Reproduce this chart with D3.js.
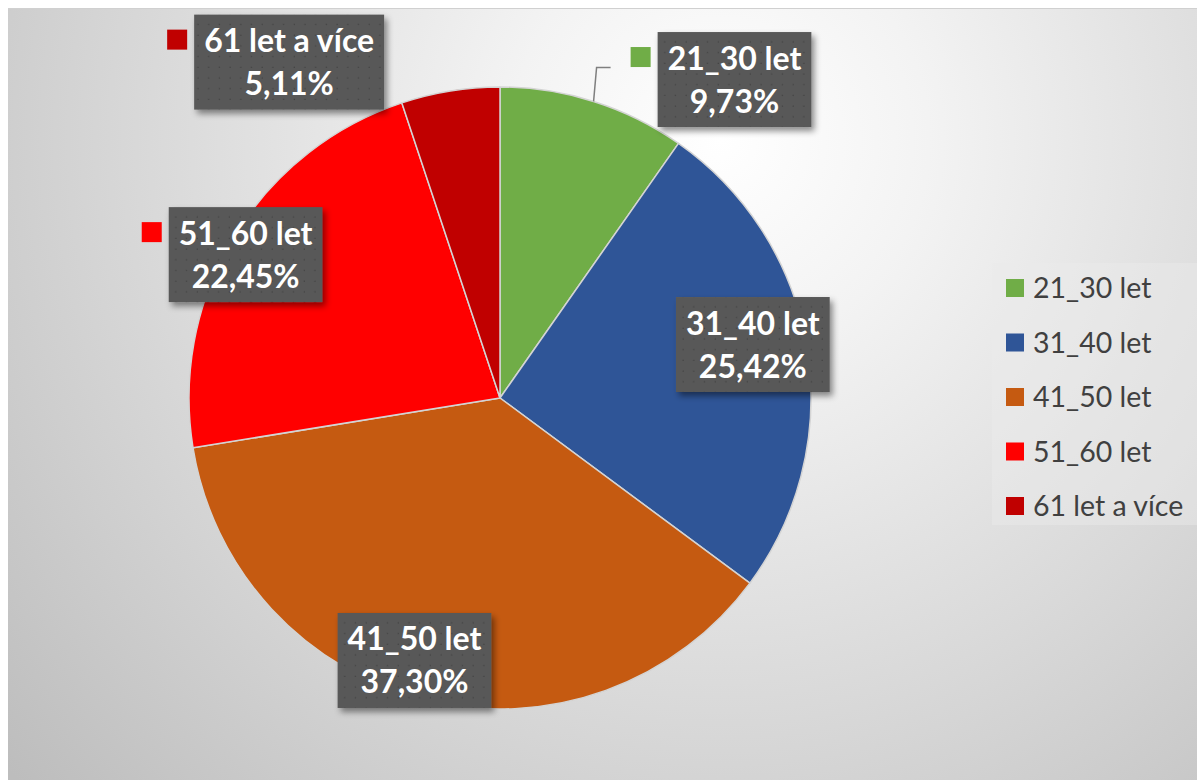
<!DOCTYPE html>
<html>
<head>
<meta charset="utf-8">
<script src="https://cdn.jsdelivr.net/npm/d3@7"></script>
<style>
  body { margin: 0; background: #fff; }
  svg { display: block; }
</style>
</head>
<body>
<svg width="1197" height="780"></svg>
<script>
var categories = ["21_30 let", "31_40 let", "41_50 let", "51_60 let", "61 let a více"];
var values = [9.73, 25.42, 37.30, 22.45, 5.11];
var labels = ["9,73%", "25,42%", "37,30%", "22,45%", "5,11%"];
var colors = ["#70AD47", "#2F5597", "#C55A11", "#FF0000", "#C00000"];

// label box centres, relative to pie centre (fraction of radius) - like excel "best fit"
var labelOffset = [[0.754, -1.024], [0.813, -0.172], [-0.275, 0.844], [-0.818, -0.461], [-0.678, -1.080]];
var showKey = [true, false, false, true, true];

var svg = d3.select("svg"),
  width = +svg.attr("width"),
  height = +svg.attr("height"),
  cx = 500,
  cy = 398,
  radius = 311;

var defs = svg.append("defs");

var bg = defs.append("radialGradient")
  .attr("id", "bg")
  .attr("gradientUnits", "userSpaceOnUse")
  .attr("cx", 720).attr("cy", 140).attr("r", 950);
bg.append("stop").attr("offset", "0").attr("stop-color", "#ffffff");
bg.append("stop").attr("offset", "0.22").attr("stop-color", "#f3f3f3");
bg.append("stop").attr("offset", "0.6").attr("stop-color", "#d9d9d9");
bg.append("stop").attr("offset", "1").attr("stop-color", "#bdbdbd");

var pat = defs.append("pattern")
  .attr("id", "dots")
  .attr("patternUnits", "userSpaceOnUse")
  .attr("width", 10.7).attr("height", 10.7);
pat.append("rect").attr("width", 10.7).attr("height", 10.7).attr("fill", "#595959");
pat.append("rect").attr("x", 4.5).attr("y", 4.5).attr("width", 1.4).attr("height", 1.4).attr("fill", "#444");

var shadow = defs.append("filter").attr("id", "shadow")
  .attr("x", "-20%").attr("y", "-20%").attr("width", "140%").attr("height", "150%");
shadow.append("feDropShadow")
  .attr("dx", 3).attr("dy", 4).attr("stdDeviation", 3)
  .attr("flood-color", "#000").attr("flood-opacity", 0.45);

// background of the chart area
svg.append("rect")
  .attr("x", 8).attr("y", 8)
  .attr("width", width - 8).attr("height", height - 8)
  .attr("fill", "url(#bg)");
svg.append("line")
  .attr("x1", 8).attr("x2", width).attr("y1", 8.5).attr("y2", 8.5)
  .attr("stroke", "#d0d0d0");

var pie = d3.pie().sort(null).value((d) => d)
  .startAngle(0).endAngle(2 * Math.PI);
var arcs = pie(values);
var arc = d3.arc().innerRadius(0).outerRadius(radius);

var g = svg.append("g").attr("transform", "translate(" + cx + "," + cy + ")");

g.selectAll("path")
  .data(arcs)
  .enter()
  .append("path")
  .attr("d", arc)
  .attr("fill", (d, i) => colors[i])
  .attr("stroke", "#d4d4d4")
  .attr("stroke-width", 1.5)
  .attr("stroke-linejoin", "round");

// leader line for the first (outside) label
var mid0 = (arcs[0].startAngle + arcs[0].endAngle) / 2;
var lx = Math.sin(mid0) * radius,
  ly = -Math.cos(mid0) * radius,
  by = labelOffset[0][1] * radius; // box centre y
g.append("path")
  .attr("d", d3.line()([[lx, ly], [lx + 3, by - 12], [lx + 17, by - 12]]))
  .attr("fill", "none")
  .attr("stroke", "#7f7f7f")
  .attr("stroke-width", 1.5);

// data labels
var boxH = 95;
var lab = g.selectAll(".lab")
  .data(arcs)
  .enter()
  .append("g")
  .attr("class", "lab")
  .attr("transform", (d, i) => "translate(" + labelOffset[i][0] * radius + "," + labelOffset[i][1] * radius + ")");

lab.each(function (d, i) {
  var s = d3.select(this);
  var box = s.append("rect").attr("fill", "url(#dots)").attr("filter", "url(#shadow)");
  var t1 = s.append("text")
    .attr("text-anchor", "middle")
    .attr("y", -10)
    .attr("fill", "#fff")
    .style("font-family", "Lato, 'Open Sans', sans-serif")
    .style("font-weight", "bold")
    .style("font-size", "32px")
    .text(categories[i]);
  s.append("text")
    .attr("text-anchor", "middle")
    .attr("y", 33)
    .attr("fill", "#fff")
    .style("font-family", "Lato, 'Open Sans', sans-serif")
    .style("font-weight", "bold")
    .style("font-size", "32px")
    .text(labels[i]);
  var w = t1.node().getComputedTextLength() + 20;
  box.attr("x", -w / 2).attr("y", -boxH / 2).attr("width", w).attr("height", boxH);
  if (showKey[i]) {
    s.append("rect")
      .attr("x", -w / 2 - 27).attr("y", -boxH / 2 + 15)
      .attr("width", 20).attr("height", 20)
      .attr("fill", colors[i]);
  }
});

// legend
var legend = svg.append("g").attr("transform", "translate(992,263)");
legend.append("rect")
  .attr("width", 205).attr("height", 262)
  .attr("fill", "#ececec").attr("opacity", 0.45);

var legY = d3.scalePoint().domain(categories).range([25, 243]);

var item = legend.selectAll(".item")
  .data(categories)
  .enter()
  .append("g")
  .attr("class", "item")
  .attr("transform", (d) => "translate(0," + legY(d) + ")");
item.append("rect")
  .attr("x", 14).attr("y", -9)
  .attr("width", 18).attr("height", 18)
  .attr("fill", (d, i) => colors[i]);
item.append("text")
  .attr("x", 41).attr("y", 10)
  .attr("fill", "#404040")
  .style("font-family", "Lato, 'Open Sans', sans-serif")
  .style("font-size", "28.5px")
  .text((d) => d);
</script>
</body>
</html>
